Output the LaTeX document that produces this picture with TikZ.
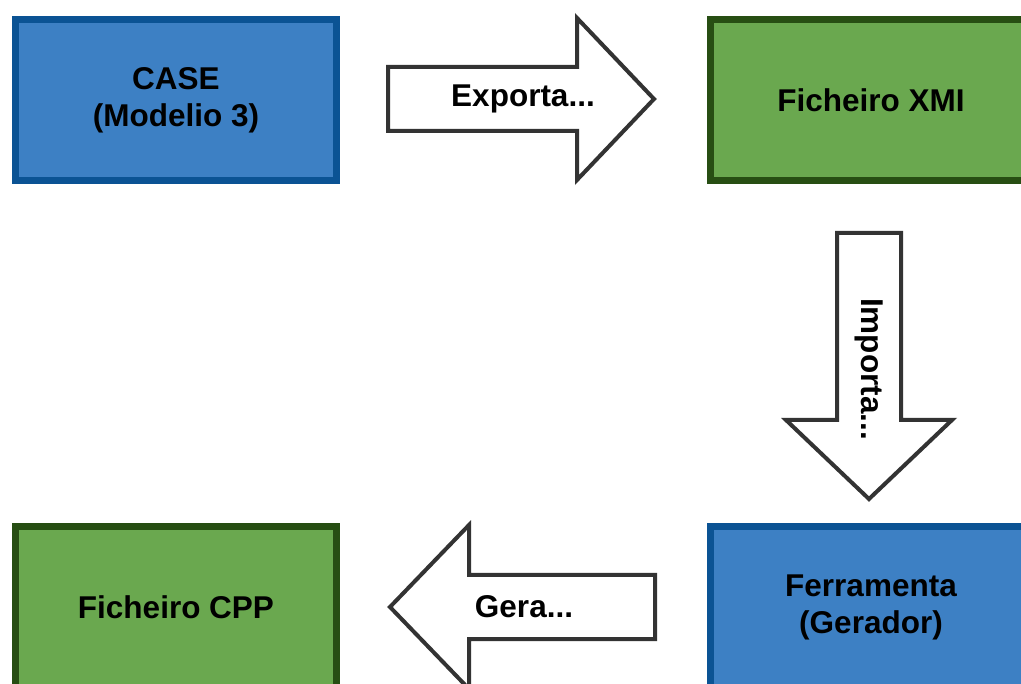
\documentclass[tikz,border=0pt]{standalone}
\usepackage{fontspec}
\setmainfont{Liberation Sans}
\definecolor{boxblue}{HTML}{3D80C4}
\definecolor{boxblueline}{HTML}{0B5394}
\definecolor{boxgreen}{HTML}{6AA84F}
\definecolor{boxgreenline}{HTML}{274E13}
\definecolor{arrowline}{HTML}{333333}
\begin{document}
\begin{tikzpicture}[x=1pt,y=-1pt,
  lbl/.style={font=\fontsize{31.5}{37}\selectfont\bfseries, align=center, inner sep=0pt},
  stepbox/.style={lbl, rectangle, line width=7pt, minimum width=321pt, minimum height=161.5pt},
  bluebox/.style={stepbox, fill=boxblue, draw=boxblueline},
  greenbox/.style={stepbox, fill=boxgreen, draw=boxgreenline},
  blockarrow/.style={draw=arrowline, fill=white, line width=4pt, line join=miter}]
\useasboundingbox (0,0) rectangle (1021,684);
\clip (0,0) rectangle (1021,684);
\fill[white] (0,0) rectangle (1021,684);

% the four stages
\node[bluebox]  (case) at (176,100) {CASE\\(Modelio 3)};
\node[greenbox] (xmi)  at (871,100) {Ficheiro XMI};
\node[bluebox]  (ferr) at (871,607) {Ferramenta\\(Gerador)};
\node[greenbox] (cpp)  at (176,607) {Ficheiro CPP};

% block arrows between the stages
\draw[blockarrow] (388,67) -- (577,67) -- (577,18) -- (654,99) -- (577,180)
  -- (577,131) -- (388,131) -- cycle;
\node[lbl] (exp) at (523,99) {Exporta...};

\draw[blockarrow] (837,233) -- (901,233) -- (901,420) -- (952,420) -- (869,499)
  -- (786,420) -- (837,420) -- cycle;
\node[lbl, rotate=-90] (imp) at (869,369) {Importa...};

\draw[blockarrow] (655,575) -- (469,575) -- (469,525) -- (390,607) -- (469,689)
  -- (469,639) -- (655,639) -- cycle;
\node[lbl] (gera) at (524,607) {Gera...};
\end{tikzpicture}
\end{document}
